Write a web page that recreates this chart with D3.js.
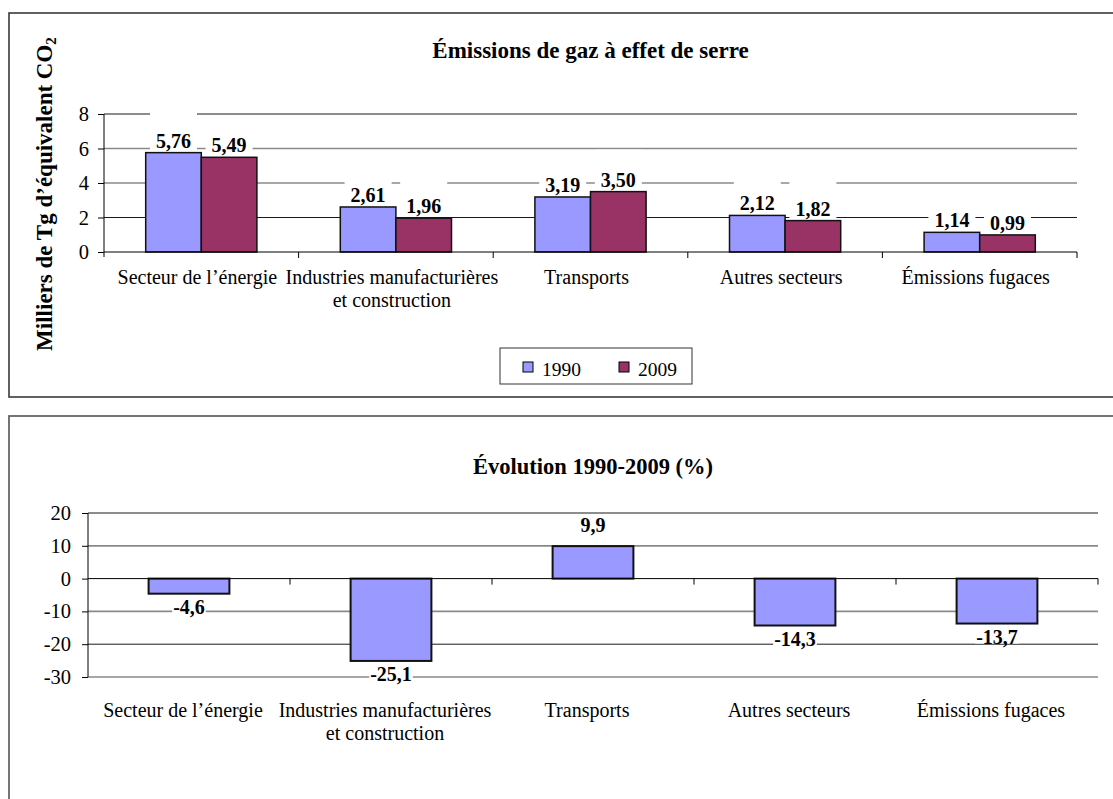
<!DOCTYPE html>
<html>
<head>
<meta charset="utf-8">
<script src="https://cdn.jsdelivr.net/npm/d3@7"></script>
<style>
  html, body { margin: 0; padding: 0; background: #fff; }
  svg { display: block; }
</style>
</head>
<body>
<svg id="chart" width="1113" height="799"></svg>
<script>
// ---------- DATA ----------
const categories = [
  ["Secteur de l\u2019\u00e9nergie"],
  ["Industries manufacturi\u00e8res", "et construction"],
  ["Transports"],
  ["Autres secteurs"],
  ["\u00c9missions fugaces"]
];
const seriesNames = ["1990", "2009"];
const values1990 = [5.76, 2.61, 3.19, 2.12, 1.14];
const values2009 = [5.49, 1.96, 3.50, 1.82, 0.99];
const evolution = [-4.6, -25.1, 9.9, -14.3, -13.7];
const topTicks = [0, 2, 4, 6, 8];
const bottomTicks = [-30, -20, -10, 0, 10, 20];
const topTitle = "\u00c9missions de gaz \u00e0 effet de serre";
const bottomTitle = "\u00c9volution 1990-2009 (%)";
const yTitleMain = "Milliers de Tg d\u2019\u00e9quivalent CO";
const yTitleSub = "2";

// ---------- STYLE ----------
const FONT = "'Liberation Serif', 'Times New Roman', serif";
const BLUE = "#9999FF", RED = "#993366";
const DARK = {stroke: "#1a1a1a", w: 1}, GREY = {stroke: "#8a8a8a", w: 1.7};
const topGridStyle = {8: DARK, 6: GREY, 4: GREY, 2: DARK};
const bottomGridStyle = {20: DARK, 10: GREY, "-10": GREY, "-20": DARK, "-30": GREY};
const locale = d3.formatLocale({decimal: ",", thousands: " ", grouping: [3], currency: ["", ""], minus: "-"});
const f2 = locale.format(".2f"), f1 = locale.format(".1f");

const svg = d3.select("#chart");

function txt(g, x, y, str, size, weight, anchor) {
  return g.append("text")
    .attr("x", x).attr("y", y)
    .attr("font-family", FONT)
    .attr("font-size", size)
    .attr("font-weight", weight || "normal")
    .attr("text-anchor", anchor || "middle")
    .attr("fill", "#000")
    .text(str);
}

// panel frames
svg.append("rect").attr("x", 9).attr("y", 13).attr("width", 1200).attr("height", 384)
  .attr("fill", "none").attr("stroke", "#3a3a3a").attr("stroke-width", 1.6);
svg.append("rect").attr("x", 9).attr("y", 416).attr("width", 1200).attr("height", 500)
  .attr("fill", "none").attr("stroke", "#666").attr("stroke-width", 1.8);

// ================= TOP CHART =================
(function () {
  const L = 104, R = 1077, T = 114, B = 252;
  const g = svg.append("g");
  const idx = categories.map((c, i) => i);
  const x0 = d3.scaleBand().domain(idx).range([L, R]).padding(0);
  const x1 = d3.scaleBand().domain(seriesNames).range([0, x0.bandwidth()])
    .paddingInner(0).paddingOuter(0.75);
  const y = d3.scaleLinear().domain([0, 8]).range([B, T]);

  g.selectAll(".grid").data(topTicks.filter(d => d > 0)).join("line")
    .attr("x1", L).attr("x2", R).attr("y1", d => y(d)).attr("y2", d => y(d))
    .attr("stroke", d => topGridStyle[d].stroke).attr("stroke-width", d => topGridStyle[d].w);

  const data = [];
  idx.forEach(i => {
    data.push({i, s: "1990", v: values1990[i], c: BLUE});
    data.push({i, s: "2009", v: values2009[i], c: RED});
  });

  const boxes = g.append("g");
  const bars = g.append("g");
  const labels = g.append("g");
  data.forEach(d => {
    const cx = x0(d.i) + x1(d.s) + x1.bandwidth() / 2;
    const t = txt(labels, cx, y(d.v) - 5, f2(d.v), 20, "bold");
    const w = t.node().getComputedTextLength() + 12;
    boxes.append("rect").attr("x", cx - w / 2).attr("y", y(d.v) - 42)
      .attr("width", w).attr("height", 40).attr("fill", "#fff");
  });
  bars.selectAll("rect").data(data).join("rect")
    .attr("x", d => x0(d.i) + x1(d.s)).attr("width", x1.bandwidth())
    .attr("y", d => y(d.v)).attr("height", d => y(0) - y(d.v))
    .attr("fill", d => d.c).attr("stroke", "#111").attr("stroke-width", 1.5);

  const ya = g.append("g").attr("transform", `translate(${L},0)`)
    .call(d3.axisLeft(y).tickValues(topTicks).tickSize(6).tickFormat(""));
  ya.select(".domain").remove();
  ya.selectAll("line").attr("stroke", "#000");
  g.append("line").attr("x1", L).attr("x2", L).attr("y1", T).attr("y2", B + 5).attr("stroke", "#000");
  topTicks.forEach(v => txt(g, 89, y(v) + 7, String(v), 20.5, "normal", "end"));

  g.append("line").attr("x1", L).attr("x2", R).attr("y1", B).attr("y2", B).attr("stroke", "#000");
  idx.slice(1).concat([idx.length]).forEach(i => {
    const xx = i < idx.length ? x0(i) : R;
    g.append("line").attr("x1", xx).attr("x2", xx).attr("y1", B).attr("y2", B + 6).attr("stroke", "#000");
  });
  categories.forEach((lines, i) => {
    lines.forEach((ln, k) => txt(g, x0(i) + x0.bandwidth() / 2 - 4, 284 + k * 23, ln, 20));
  });

  txt(g, (L + R) / 2, 58, topTitle, 23, "bold");

  const yt = g.append("text")
    .attr("transform", `translate(52,194) rotate(-90)`)
    .attr("font-family", FONT).attr("font-size", 23).attr("font-weight", "bold")
    .attr("text-anchor", "middle");
  yt.append("tspan").text(yTitleMain);
  yt.append("tspan").attr("font-size", 15).attr("dy", 4).text(yTitleSub);

  const lg = g.append("g");
  lg.append("rect").attr("x", 500).attr("y", 348).attr("width", 192).attr("height", 36)
    .attr("fill", "#fff").attr("stroke", "#333").attr("stroke-width", 1);
  const lx = [523, 619];
  seriesNames.forEach((s, k) => {
    lg.append("rect").attr("x", lx[k]).attr("y", 362).attr("width", 10).attr("height", 10)
      .attr("fill", k === 0 ? BLUE : RED).attr("stroke", "#000").attr("stroke-width", 1);
    txt(lg, lx[k] + 19, 376, s, 19.5, "normal", "start");
  });
})();

// ================= BOTTOM CHART =================
(function () {
  const L = 88, R = 1098, T = 513, B = 677;
  const g = svg.append("g");
  const idx = categories.map((c, i) => i);
  const xb = d3.scaleBand().domain(idx).range([L, R]).padding(0);
  const x = d3.scaleBand().domain(idx).range([L, R]).paddingInner(0.6).paddingOuter(0.3);
  const y = d3.scaleLinear().domain([-30, 20]).range([B, T]);

  g.selectAll(".grid").data(bottomTicks.filter(d => d !== 0)).join("line")
    .attr("x1", L).attr("x2", R).attr("y1", d => y(d)).attr("y2", d => y(d))
    .attr("stroke", d => bottomGridStyle[d].stroke).attr("stroke-width", d => bottomGridStyle[d].w);

  const boxes = g.append("g");
  const bars = g.append("g");
  const labels = g.append("g");
  evolution.forEach((v, i) => {
    const cx = x(i) + x.bandwidth() / 2;
    const by = v >= 0 ? y(v) - 14 : y(v) + 20;
    const t = txt(labels, cx, by, f1(v), 20, "bold");
    const w = t.node().getComputedTextLength() + 2;
    boxes.append("rect").attr("x", cx - w / 2).attr("y", by - 14).attr("width", w).attr("height", 14)
      .attr("fill", "#fff");
  });
  bars.selectAll("rect").data(evolution).join("rect")
    .attr("x", (d, i) => x(i)).attr("width", x.bandwidth())
    .attr("y", d => y(Math.max(0, d))).attr("height", d => Math.abs(y(d) - y(0)))
    .attr("fill", BLUE).attr("stroke", "#111").attr("stroke-width", 2);

  const ya = g.append("g").attr("transform", `translate(${L},0)`)
    .call(d3.axisLeft(y).tickValues(bottomTicks).tickSize(6).tickFormat(""));
  ya.select(".domain").remove();
  ya.selectAll("line").attr("stroke", "#000");
  g.append("line").attr("x1", L).attr("x2", L).attr("y1", T).attr("y2", B).attr("stroke", "#000");
  bottomTicks.forEach(v => txt(g, 71, y(v) + 7, String(v), 20.5, "normal", "end"));

  g.append("line").attr("x1", L).attr("x2", R).attr("y1", y(0)).attr("y2", y(0)).attr("stroke", "#000");
  idx.slice(1).concat([idx.length]).forEach(i => {
    const xx = i < idx.length ? xb(i) : R;
    g.append("line").attr("x1", xx).attr("x2", xx).attr("y1", y(0)).attr("y2", y(0) + 6).attr("stroke", "#000");
  });
  categories.forEach((lines, i) => {
    lines.forEach((ln, k) => txt(g, xb(i) + xb.bandwidth() / 2 - 6, 717 + k * 23, ln, 20));
  });

  txt(g, (L + R) / 2, 474, bottomTitle, 22.5, "bold");
})();
</script>
</body>
</html>
